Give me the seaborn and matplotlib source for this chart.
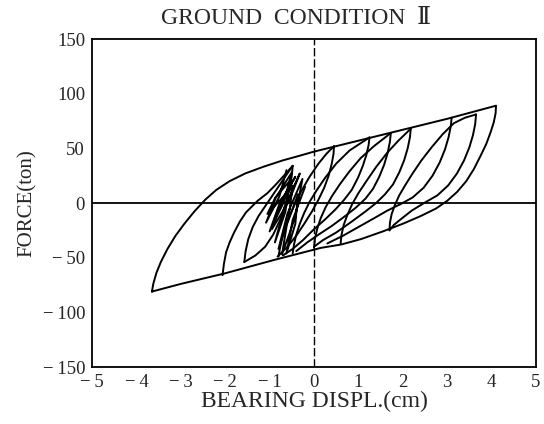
import matplotlib
matplotlib.use("Agg")
import matplotlib.pyplot as plt
import seaborn as sns

# ---------------- data ----------------
x_ticks = [-5, -4, -3, -2, -1, 0, 1, 2, 3, 4, 5]
y_ticks = [-150, -100, -50, 0, 50, 100, 150]

# outer (largest) hysteresis loop
outer_x = [-3.65, -3.62, -3.55, -3.45, -3.30, -3.12, -2.92, -2.70, -2.45, -2.20, -1.90, -1.55, -1.15, -0.70, -0.30,
           0.00, 1.00, 2.00, 3.00, 4.10,
           4.09, 4.05, 3.98, 3.88, 3.75, 3.60, 3.43, 3.22, 3.00, 2.75, 2.40, 2.00, 1.55, 1.06, 0.61, 0.16,
           -0.89, -2.02, -3.00, -3.65]
outer_y = [-81, -74, -64, -54, -42, -30, -19, -8, 3, 12, 20, 27, 33, 39, 43.5,
           47, 57, 67, 77, 89,
           82, 74, 65, 54, 43, 31, 20, 10, 2, -5, -12, -19, -26, -33, -38, -41,
           -52, -64.5, -74, -81]

# left side branches
left_rise_x = [-2.06, -2.03, -1.98, -1.90, -1.80, -1.67, -1.53, -1.27, -1.05, -0.88, -0.70, -0.48]
left_rise_y = [-66, -56, -45, -36, -27, -17, -8.5, 2, 9, 16, 24, 34]
lens_desc_x = [-0.48, -0.50, -0.56, -0.65, -0.77, -0.92, -1.10, -1.32, -1.57]
lens_desc_y = [34, 25, 12, -2, -16, -29, -40, -48, -54]
lens_rise_x = [-1.57, -1.54, -1.48, -1.38, -1.25, -1.10, -0.95, -0.80, -0.65, -0.48]
lens_rise_y = [-54, -44, -33, -22, -12, -3, 6, 15, 24, 34]

# dense zig-zag in the centre
zig_x = [-0.62, -0.78, -1.08, -0.86, -0.50, -0.68, -1.00, -0.78, -0.42, -0.665, -1.05, -0.87, -0.55, -0.645,
         -0.88, -0.67, -0.32, -0.565, -0.95, -0.785, -0.48, -0.57, -0.80, -0.60, -0.26, -0.42, -0.72, -0.61,
         -0.36, -0.42, -0.62, -0.48, -0.20]
zig_y = [30, 6, -18, 5, 28, 1, -26, -1, 24, 7, -10, 5, 20, -8,
         -36, -4.5, 27, 1.5, -24, -4, 16, -13, -42, -10, 22, -12.5, -47, -19.5,
         8, -19, -46, -15.5, 15]

# middle loops
m1_rise_x = [-0.80, -0.77, -0.72, -0.64, -0.54, -0.42, -0.27, -0.10, 0.10, 0.28, 0.45]
m1_rise_y = [-49, -42, -33, -22, -11, 0, 12, 24, 36, 45, 52]
m1_desc_x = [0.45, 0.44, 0.40, 0.33, 0.23, 0.10, -0.05, -0.22, -0.40, -0.60, -0.82]
m1_desc_y = [52, 45, 36, 25, 14, 3, -8, -19, -30, -40, -49]
m2_rise_x = [-0.48, -0.45, -0.40, -0.32, -0.22, -0.10, 0.05, 0.25, 0.50, 0.80, 1.25]
m2_rise_y = [-46, -38, -29, -19, -9, 1, 11, 23, 36, 48, 60]
m2_desc_x = [1.25, 1.23, 1.18, 1.10, 0.99, 0.85, 0.68, 0.48, 0.25, 0.00, -0.25, -0.48, -0.70]
m2_desc_y = [60, 53, 44, 34, 23, 12, 3, -6, -15, -24, -34, -42, -48]
m3_rise_x = [0.00, 0.02, 0.07, 0.15, 0.26, 0.40, 0.58, 0.80, 1.05, 1.35, 1.73]
m3_rise_y = [-41, -33, -24, -14, -4, 6, 17, 29, 41, 52, 64]
m3_desc_x = [1.73, 1.71, 1.66, 1.58, 1.47, 1.33, 1.16, 0.95, 0.70, 0.40, 0.10, -0.15, -0.40]
m3_desc_y = [64, 56, 46, 35, 24, 13, 4, -4, -12, -21, -29, -36, -44]
m4_rise_x = [0.60, 0.62, 0.67, 0.75, 0.86, 1.00, 1.18, 1.40, 1.65, 1.90, 2.18]
m4_rise_y = [-37, -29, -20, -11, -1, 9, 20, 33, 46, 57, 68]
m4_desc_x = [2.18, 2.16, 2.11, 2.03, 1.92, 1.78, 1.60, 1.40, 1.15, 0.85, 0.50, 0.20, 0.00]
m4_desc_y = [68, 60, 50, 39, 28, 17, 8, 0, -8, -17, -27, -34, -40]

# right side loops
r1_rise_x = [1.70, 1.71, 1.75, 1.82, 1.92, 2.05, 2.22, 2.42, 2.65, 2.90, 3.15, 3.40, 3.65]
r1_rise_y = [-25, -18, -10, -2, 7, 16, 27, 39, 51, 63, 73, 78, 81]
r1_desc_x = [3.65, 3.63, 3.58, 3.50, 3.38, 3.22, 3.02, 2.78, 2.48, 2.20, 1.95, 1.80, 1.70]
r1_desc_y = [81, 72, 62, 51, 39, 27, 16, 7, 0, -7, -15, -20, -25]
r2_desc_x = [3.10, 3.08, 3.03, 2.95, 2.83, 2.67, 2.47, 2.22, 1.95, 1.65, 1.35, 1.00, 0.65, 0.30]
r2_desc_y = [78, 70, 60, 49, 37, 25, 14, 5, -1, -7, -14, -22, -30, -37]

branches = [
    (outer_x, outer_y), (left_rise_x, left_rise_y), (lens_desc_x, lens_desc_y), (lens_rise_x, lens_rise_y),
    (zig_x, zig_y), (m1_rise_x, m1_rise_y), (m1_desc_x, m1_desc_y), (m2_rise_x, m2_rise_y), (m2_desc_x, m2_desc_y),
    (m3_rise_x, m3_rise_y), (m3_desc_x, m3_desc_y), (m4_rise_x, m4_rise_y), (m4_desc_x, m4_desc_y),
    (r1_rise_x, r1_rise_y), (r1_desc_x, r1_desc_y), (r2_desc_x, r2_desc_y),
]

# ---------------- drawing ----------------
sns.set_style("white")
serif = ["Liberation Serif", "DejaVu Serif"]
plt.rcParams["font.family"] = serif

fig = plt.figure(figsize=(5.44, 4.24), dpi=100)
ax = fig.add_axes([92 / 544, 1 - 367 / 424, 444 / 544, 328 / 424])

for bx, by in branches:
    sns.lineplot(x=bx, y=by, sort=False, estimator=None, color="black", linewidth=1.4, ax=ax)

ax.axhline(0, color="black", linewidth=1.3)
ax.axvline(0, color="black", linewidth=1.0, linestyle=(0, (6, 2)))

ax.set_xlim(-5, 5)
ax.set_ylim(-150, 150)
ax.set_xticks(x_ticks)
ax.set_yticks(y_ticks)
ax.set_xticklabels([("\u2212\u2009" + str(-v)) if v < 0 else str(v) for v in x_ticks])
ax.set_yticklabels([("\u2212\u2009" + str(-v)) if v < 0 else str(v) for v in y_ticks])
ax.tick_params(axis="x", direction="in", length=4, width=1, labelsize=13.5, pad=5)
ax.tick_params(axis="y", direction="inout", length=6, width=1, labelsize=13.5, pad=2)
for s in ax.spines.values():
    s.set_color("black")
    s.set_linewidth(1.3)

ax.set_xlabel("BEARING DISPL.(cm)", fontsize=17, labelpad=0)
ax.set_ylabel("FORCE(ton)", fontsize=15, labelpad=4)
fig.text(0.544, 0.957, "GROUND  CONDITION  \u2161", ha="center", va="center", fontsize=17)

fig.savefig("out.png", dpi=100)
